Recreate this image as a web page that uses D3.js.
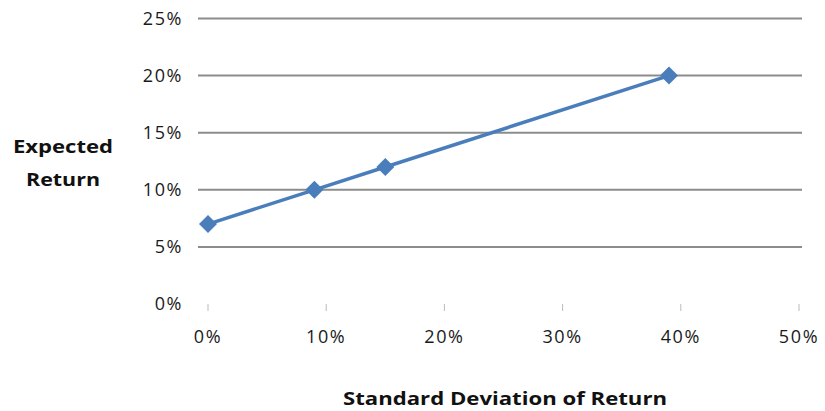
<!DOCTYPE html>
<html><head><meta charset="utf-8">
<script src="https://cdn.jsdelivr.net/npm/d3@7"></script>
<style>body{margin:0;background:#fff}svg{display:block}</style>
</head><body>
<svg id="c" width="825" height="411"></svg>
<script>
const stdDev = [0, 9, 15, 39];          // x values (%)
const expReturn = [7, 10, 12, 20];       // y values (%)
const xTicks = [0, 10, 20, 30, 40, 50];
const yTicks = [0, 5, 10, 15, 20, 25];
const xTitle = "Standard Deviation of Return";
const yTitle = ["Expected", "Return"];

const svg = d3.select("#c");
const x = d3.scaleLinear().domain([0, 50]).range([208, 799]);
const y = d3.scaleLinear().domain([0, 25]).range([304, 18.5]);
const font = "'Open Sans', sans-serif";

// gridlines (no line at 0)
svg.append("g").selectAll("line").data(yTicks.filter(d => d > 0)).join("line")
  .attr("x1", 198).attr("x2", 802)
  .attr("y1", d => y(d)).attr("y2", d => y(d))
  .attr("stroke", "#8c8c8c").attr("stroke-width", 2);

// y tick labels
svg.append("g").selectAll("text").data(yTicks).join("text")
  .attr("x", 183).attr("y", d => y(d)).attr("dy", "0.35em")
  .attr("text-anchor", "end").attr("font-family", font).attr("font-size", 18)
  .attr("letter-spacing", 1.6).attr("fill", "#1a1a1a")
  .text(d => d + "%");

// x axis ticks
svg.append("g").selectAll("line").data(xTicks).join("line")
  .attr("x1", d => x(d)).attr("x2", d => x(d))
  .attr("y1", 304).attr("y2", 311)
  .attr("stroke", "#bbb").attr("stroke-width", 1);

// x tick labels
svg.append("g").selectAll("text").data(xTicks).join("text")
  .attr("x", d => x(d)).attr("y", 337).attr("dy", "0.35em")
  .attr("text-anchor", "middle").attr("font-family", font).attr("font-size", 18)
  .attr("letter-spacing", 1.6).attr("fill", "#1a1a1a")
  .text(d => d + "%");

// titles
svg.append("text").attr("x", 505).attr("y", 405)
  .attr("text-anchor", "middle").attr("font-family", font).attr("font-size", 18)
  .attr("font-weight", "bold").attr("fill", "#111")
  .attr("textLength", 324).attr("lengthAdjust", "spacingAndGlyphs")
  .text(xTitle);
svg.append("text").attr("x", 63).attr("y", 153)
  .attr("text-anchor", "middle").attr("font-family", font).attr("font-size", 18)
  .attr("font-weight", "bold").attr("fill", "#111")
  .attr("textLength", 100).attr("lengthAdjust", "spacingAndGlyphs")
  .text(yTitle[0]);
svg.append("text").attr("x", 63).attr("y", 186)
  .attr("text-anchor", "middle").attr("font-family", font).attr("font-size", 18)
  .attr("font-weight", "bold").attr("fill", "#111")
  .attr("textLength", 74).attr("lengthAdjust", "spacingAndGlyphs")
  .text(yTitle[1]);

// series
const pts = stdDev.map((d, i) => [d, expReturn[i]]);
svg.append("path").datum(pts)
  .attr("d", d3.line().x(d => x(d[0])).y(d => y(d[1])))
  .attr("fill", "none").attr("stroke", "#4a7ebb").attr("stroke-width", 3.5);
svg.append("g").selectAll("path").data(pts).join("path")
  .attr("transform", d => `translate(${x(d[0])},${y(d[1])})`)
  .attr("d", "M0,-9L9,0L0,9L-9,0Z")
  .attr("fill", "#4a7ebb");
</script>
</body></html>
